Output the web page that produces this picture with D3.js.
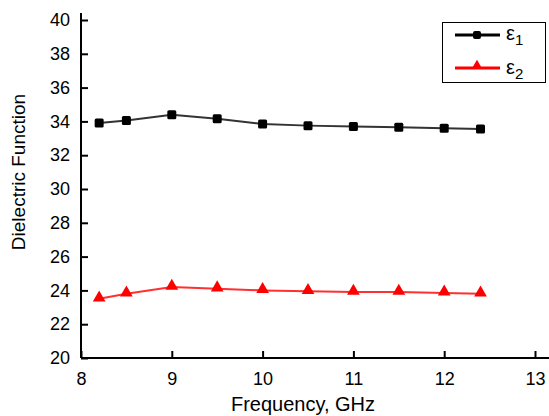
<!DOCTYPE html>
<html>
<head>
<meta charset="utf-8">
<script src="https://cdn.jsdelivr.net/npm/d3@7"></script>
<style>
  body { margin: 0; background: #fff; }
  svg { display: block; font-family: "Liberation Sans", Arial, sans-serif; }
</style>
</head>
<body>
<div id="chart"></div>
<script>

var freq = [8.2, 8.5, 9, 9.5, 10, 10.5, 11, 11.5, 12, 12.4];
var eps1 = [33.9, 34.05, 34.4, 34.15, 33.85, 33.75, 33.7, 33.65, 33.6, 33.55];
var eps2 = [23.5, 23.8, 24.2, 24.1, 24.0, 23.95, 23.9, 23.9, 23.85, 23.8];
var xTicks = [8, 9, 10, 11, 12, 13];
var yTicks = [20, 22, 24, 26, 28, 30, 32, 34, 36, 38, 40];

var width = 549, height = 416;

var svg = d3.select('#chart').append('svg')
  .attr('width', width)
  .attr('height', height);

var x = d3.scaleLinear().domain([8, 13]).range([81, 535]);
var y = d3.scaleLinear().domain([20, 40]).range([358, 20]);

// axes, ticks pointing inward
var xAxis = svg.append('g')
  .attr('transform', 'translate(0,' + y(20) + ')')
  .call(d3.axisBottom(x).tickValues(xTicks).tickFormat(d3.format('d'))
    .tickSizeInner(-7).tickSizeOuter(0).tickPadding(14));

xAxis.select('.domain').attr('d', 'M' + x(8) + ',0H' + width);

var yAxis = svg.append('g')
  .attr('transform', 'translate(' + x(8) + ',0)')
  .call(d3.axisLeft(y).tickValues(yTicks).tickFormat(d3.format('d'))
    .tickSizeInner(-7).tickSizeOuter(0).tickPadding(11));

yAxis.select('.domain').attr('d', 'M0,' + (y(40) - 7) + 'V' + y(20));

svg.selectAll('.domain, .tick line').attr('stroke', '#000').attr('stroke-width', 2);
svg.selectAll('.tick text').attr('font-size', 18).attr('fill', '#000')
  .attr('font-family', '"Liberation Sans", Arial, sans-serif');

// axis labels
svg.append('text')
  .attr('x', 303).attr('y', 411)
  .attr('text-anchor', 'middle')
  .attr('font-size', 20)
  .text('Frequency, GHz');

svg.append('text')
  .attr('transform', 'translate(25,' + 172 + ') rotate(-90)')
  .attr('text-anchor', 'middle')
  .attr('font-size', 19)
  .text('Dielectric Function');

// series
var line = d3.line()
  .x(function(d) { return x(d[0]); })
  .y(function(d) { return y(d[1]); });

var s1 = d3.zip(freq, eps1);
var s2 = d3.zip(freq, eps2);

svg.append('path')
  .attr('d', line(s1))
  .attr('fill', 'none')
  .attr('stroke', '#333')
  .attr('stroke-width', 2);

svg.selectAll('.sq')
  .data(s1)
  .enter().append('rect')
  .attr('class', 'sq')
  .attr('x', function(d) { return x(d[0]) - 4.5; })
  .attr('y', function(d) { return y(d[1]) - 4.5; })
  .attr('width', 9).attr('height', 9)
  .attr('rx', 1.5)
  .attr('fill', '#000');

svg.append('path')
  .attr('d', line(s2))
  .attr('fill', 'none')
  .attr('stroke', '#ff3030')
  .attr('stroke-width', 2);

var tri = d3.symbol().type(d3.symbolTriangle).size(70);

svg.selectAll('.tri')
  .data(s2)
  .enter().append('path')
  .attr('class', 'tri')
  .attr('d', tri)
  .attr('transform', function(d) { return 'translate(' + x(d[0]) + ',' + (y(d[1]) - 1) + ')'; })
  .attr('fill', '#ff0000');

// legend
var lg = svg.append('g');

lg.append('rect')
  .attr('x', 442.5).attr('y', 22.5)
  .attr('width', 103).attr('height', 60)
  .attr('fill', '#fff')
  .attr('stroke', '#000')
  .attr('stroke-width', 1);

lg.append('line')
  .attr('x1', 455).attr('x2', 500).attr('y1', 35).attr('y2', 35)
  .attr('stroke', '#000').attr('stroke-width', 3);
lg.append('rect')
  .attr('x', 473).attr('y', 31).attr('width', 8).attr('height', 8).attr('rx', 2)
  .attr('fill', '#000');

lg.append('line')
  .attr('x1', 455).attr('x2', 500).attr('y1', 68).attr('y2', 68)
  .attr('stroke', '#ff0000').attr('stroke-width', 3);
lg.append('path')
  .attr('d', d3.symbol().type(d3.symbolTriangle).size(50))
  .attr('transform', 'translate(477,66)')
  .attr('fill', '#ff0000');

var labels = [['1', 40], ['2', 74]];
labels.forEach(function(l) {
  var t = lg.append('text')
    .attr('x', 506).attr('y', l[1])
    .attr('font-size', 20);
  t.append('tspan').text('\u03b5');
  t.append('tspan').attr('font-size', 15).attr('dy', 5).text(l[0]);
});

</script>
</body>
</html>
